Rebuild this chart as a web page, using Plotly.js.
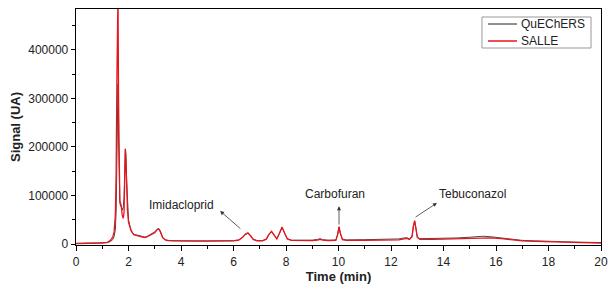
<!DOCTYPE html>
<html>
<head>
<meta charset="utf-8">
<script src="https://cdn.plot.ly/plotly-3.0.1.min.js"></script>
<style>html,body{margin:0;padding:0;background:#fff;}#chart{width:614px;height:293px;}</style>
</head>
<body>
<div id="chart"></div>
<script>
// Retention time (min)
const time = [0,0.5,1.0,1.2,1.3,1.4,1.45,1.5,1.53,1.56,1.58,1.6,1.62,1.64,1.67,1.7,1.73,1.76,1.8,1.83,1.86,1.88,1.9,1.93,1.96,2.0,2.05,2.1,2.2,2.3,2.4,2.5,2.6,2.7,2.8,2.9,3.0,3.1,3.15,3.2,3.3,3.4,3.5,3.7,4.0,4.5,5.0,5.5,6.0,6.2,6.35,6.45,6.55,6.65,6.75,6.9,7.1,7.25,7.35,7.45,7.55,7.65,7.75,7.85,7.95,8.05,8.2,8.5,9.0,9.2,9.3,9.4,9.6,9.9,9.97,10.02,10.07,10.15,10.3,11.0,11.5,12.0,12.3,12.5,12.6,12.7,12.8,12.85,12.9,12.95,13.0,13.1,13.3,13.6,14.0,14.5,15.0,15.3,15.5,15.8,16.2,16.6,17.0,17.5,18.0,19.0,20.0];

// QuEChERS signal (UA)
const quechers = [1500,1500,2000,3000,5000,9000,15000,30000,70000,180000,300000,330000,220000,120000,90000,85000,80000,70000,75000,95000,160000,196000,185000,130000,80000,50000,38000,28000,20000,18000,17500,16000,14000,15500,19000,22000,25000,31000,32000,28000,14000,9000,7500,7000,6500,6500,6500,6500,7000,8500,14000,20000,22000,17000,10000,7000,7000,10000,20000,25000,17000,11000,22000,34000,22000,11000,8000,7500,8000,9500,11000,9000,8000,8500,20000,35000,22000,10000,8500,9000,9000,9500,10500,12500,13000,10500,15000,35000,47000,32000,15000,11000,11000,12000,12500,12500,14000,16000,16000,15000,12000,9000,7500,6500,5500,4000,3000];

// SALLE signal (UA)
const salle = [1000,1200,1800,3500,7000,14000,25000,60000,150000,350000,500000,520000,300000,150000,85000,80000,75000,60000,53000,65000,150000,195000,175000,115000,70000,45000,35000,27000,19000,17500,17000,15500,13500,14500,17000,20000,23000,30000,31000,27000,13000,8500,7000,6500,6000,6000,6000,6000,6500,8000,14000,20000,23000,17000,9500,6500,6500,10000,20000,26000,17000,10500,22000,35000,22000,10500,7500,7000,7000,8000,9500,8000,7000,7500,20000,36000,22000,9000,7500,7500,7500,8000,8500,10500,11500,9500,15000,36000,48000,32000,14000,9500,9000,9500,10000,10500,11000,11500,12500,12500,11000,8500,6500,5500,4500,3000,2000];

const seriesNames = ["QuEChERS", "SALLE"];
const seriesColors = ["#333333", "#e8141c"];
const seriesWidths = [0.9, 1.3];
const compoundLabels = ["Imidacloprid", "Carbofuran", "Tebuconazol"];
const xTicks = [0,2,4,6,8,10,12,14,16,18,20];
const yTicks = [0,100000,200000,300000,400000];

const FONT = "Liberation Sans, Arial, sans-serif";

const traces = [
  {x: time, y: quechers, name: seriesNames[0], mode: "lines", line: {color: seriesColors[0], width: seriesWidths[0]}},
  {x: time, y: salle, name: seriesNames[1], mode: "lines", line: {color: seriesColors[1], width: seriesWidths[1]}}
];

// annotation geometry (label anchor, arrow head, arrow tail)
const labelPos = [[4.0, 81000], [9.87, 103000], [15.12, 103000]];
const arrowHead = [[5.49, 68000], [10.02, 78000], [13.75, 84500]];
const arrowTail = [[6.32, 29000], [10.02, 37000], [12.88, 53600]];

const annotations = [];
for (let i = 0; i < compoundLabels.length; i++) {
  annotations.push({x: labelPos[i][0], y: labelPos[i][1], xref: "x", yref: "y", text: compoundLabels[i], showarrow: false, font: {family: FONT, size: 12, color: "#222"}});
  annotations.push({x: arrowHead[i][0], y: arrowHead[i][1], ax: arrowTail[i][0], ay: arrowTail[i][1], xref: "x", yref: "y", axref: "x", ayref: "y", text: "", showarrow: true, arrowhead: 2, arrowsize: 1, arrowwidth: 0.8, arrowcolor: "#333", standoff: 0, startstandoff: 0});
}

// custom legend box (paper coordinates)
const legBox = {x0: 0.7733, x1: 0.981, y0: 0.8347, y1: 0.9661};
const legRowsY = [0.9364, 0.8644];
const legLineX = [0.7848, 0.840];
const shapes = [{type: "rect", xref: "paper", yref: "paper", x0: legBox.x0, x1: legBox.x1, y0: legBox.y0, y1: legBox.y1, line: {color: "#999", width: 1}, fillcolor: "#fff", layer: "above"}];
for (let i = 0; i < seriesNames.length; i++) {
  shapes.push({type: "line", xref: "paper", yref: "paper", x0: legLineX[0], x1: legLineX[1], y0: legRowsY[i], y1: legRowsY[i], line: {color: seriesColors[i], width: seriesWidths[i] + 0.2}, layer: "above"});
  annotations.push({x: legLineX[1] + 0.003, y: legRowsY[i], xref: "paper", yref: "paper", xanchor: "left", yanchor: "middle", text: seriesNames[i], showarrow: false, font: {family: FONT, size: 12, color: "#222"}});
}

const layout = {
  width: 614, height: 293,
  margin: {l: 76, r: 13, t: 9, b: 48},
  paper_bgcolor: "#fff", plot_bgcolor: "#fff",
  font: {family: FONT, size: 12, color: "#222"},
  showlegend: false,
  xaxis: {
    range: [0, 20], tickvals: xTicks, ticktext: xTicks.map(String),
    ticks: "outside", ticklen: 5, tickwidth: 1, tickcolor: "#000",
    minor: {dtick: 1, ticks: "outside", ticklen: 3, tickwidth: 1, tickcolor: "#000"},
    showline: true, linecolor: "#000", linewidth: 1.3, mirror: true,
    showgrid: false, zeroline: false,
    tickfont: {size: 12, color: "#222"},
    title: {text: "<b>Time (min)</b>", font: {size: 13, color: "#222"}, standoff: 4}
  },
  yaxis: {
    range: [-2000, 484000], tickvals: yTicks, ticktext: yTicks.map(String),
    ticks: "outside", ticklen: 4, tickwidth: 1, tickcolor: "#000",
    minor: {dtick: 50000, tick0: 0, ticks: "outside", ticklen: 3, tickwidth: 1, tickcolor: "#000"},
    showline: true, linecolor: "#000", linewidth: 1.3, mirror: true,
    showgrid: false, zeroline: false,
    tickfont: {size: 12, color: "#222"},
    title: {text: "<b>Signal (UA)</b>", font: {size: 13, color: "#222"}, standoff: 4}
  },
  shapes: shapes,
  annotations: annotations
};

Plotly.newPlot("chart", traces, layout, {displayModeBar: false, staticPlot: true});
</script>
</body>
</html>
